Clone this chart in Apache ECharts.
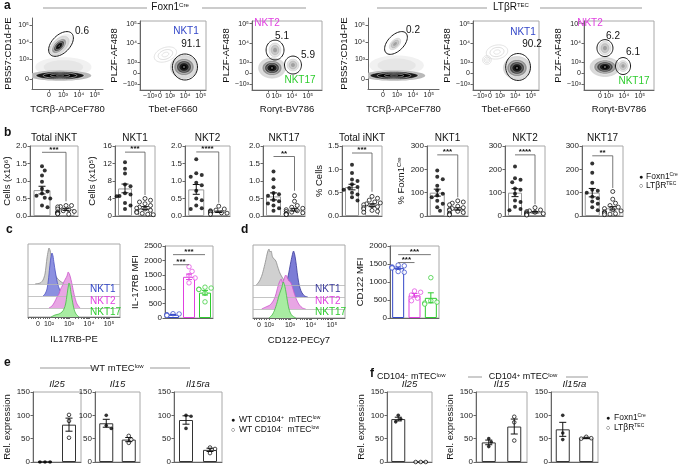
<!DOCTYPE html>
<html><head><meta charset="utf-8">
<script src="https://cdn.jsdelivr.net/npm/echarts@6/dist/echarts.min.js"></script>
<style>html,body{margin:0;padding:0;background:#fff}#c{width:680px;height:466px}</style>
</head><body><div id="c"></div>
<script>
// ======================= DATA =======================
// (a) gate frequencies (%)
const aFreqFoxn1 = ['0.6', '91.1', '5.1', '5.9'];
const aFreqLtbr  = ['0.2', '90.2', '6.2', '6.1'];
// (a) populations in arcsinh display units: [x, y, semiAxisA, semiAxisB, tiltDeg, kind]
// kind: 0 dense contours, 1 light contours, 2 gate, 3 sparse contour lines, 4 scattered events, 5 dense band
const aPops1 = [[0.9,0.7,1.75,0.62,0,4],[0.8,2.0,0.85,0.5,45,4],[0.69,0.2,1.5,0.25,0,5],[0.63,1.94,0.56,0.31,45,0],[0.75,2.06,0.94,0.56,45,2]];
const aPops2 = [[0.35,0.95,0.75,0.45,20,3],[1.55,0.31,0.65,0.55,0,0],[1.61,0.31,0.81,0.84,0,2]];
const aPops3 = [[0.25,0.26,0.62,0.47,0,0],[0.44,1.18,0.37,0.44,0,1],[0.44,1.18,0.56,0.62,0,2],[1.56,0.41,0.37,0.37,0,1],[1.56,0.41,0.53,0.56,0,2]];
const aPops4 = [[0.85,0.8,1.7,0.62,0,4],[0.69,0.2,1.5,0.25,0,5],[0.75,2.06,0.44,0.25,45,1],[0.81,2.12,0.875,0.5,45,2]];
const aPops5 = [[0.45,1.08,0.7,0.45,10,3],[-0.2,0.67,0.28,0.28,0,3],[1.74,0.26,0.65,0.55,0,0],[1.81,0.31,0.8,0.87,0,2]];
const aPops6 = [[0.31,0.31,0.69,0.44,0,0],[0.31,1.28,0.37,0.42,0,1],[0.31,1.28,0.5,0.53,0,2],[1.44,0.36,0.32,0.34,0,1],[1.44,0.36,0.47,0.53,0,2]];
const aTicksPos = [0, 1e3, 1e4, 1e5];
const aTicksPosLab = ['0', '10\u00B3', '10\u2074', '10\u2075'];
const aTicksBi = [-1e3, 0, 1e3, 1e4, 1e5];
const aTicksBiLab = ['\u221210\u00B3', '0', '10\u00B3', '10\u2074', '10\u2075'];

// (b) iNKT numbers: Foxn1Cre (filled) vs LTbRTEC (open)
const bTitles = ['Total iNKT', 'NKT1', 'NKT2', 'NKT17', 'Total iNKT', 'NKT1', 'NKT2', 'NKT17'];
const bTotalCellsFoxn1 = [1.42,1.3,1.16,0.98,0.78,0.7,0.64,0.58,0.52,0.5,0.3,0.25];
const bTotalCellsLtbr  = [0.3,0.3,0.27,0.26,0.2,0.18,0.15,0.13,0.12,0.1,0.08,0.07,0.06,0.05];
const bNkt1CellsFoxn1  = [12.3,10.8,9.7,7.2,6.8,5.2,4.9,4.6,4.5,3.0,2.4,1.6];
const bNkt1CellsLtbr   = [4.0,3.6,3.2,2.8,2.4,2.0,1.8,1.6,1.3,1.0,0.8,0.6,0.4,0.3];
const bNkt2CellsFoxn1  = [1.62,1.22,1.17,1.12,0.95,0.88,0.72,0.5,0.45,0.3,0.22,0.2];
const bNkt2CellsLtbr   = [0.28,0.2,0.17,0.15,0.13,0.12,0.1,0.09,0.08,0.06,0.05];
const bNkt17CellsFoxn1 = [1.27,1.05,0.82,0.66,0.62,0.58,0.46,0.42,0.36,0.3,0.22,0.15];
const bNkt17CellsLtbr  = [0.58,0.42,0.3,0.25,0.22,0.18,0.15,0.13,0.11,0.09,0.07,0.06,0.05,0.04];
const bTotalPctFoxn1   = [1.1,0.92,0.78,0.75,0.68,0.62,0.6,0.56,0.5,0.46,0.4,0.33];
const bTotalPctLtbr    = [0.42,0.38,0.34,0.3,0.28,0.26,0.24,0.22,0.2,0.18,0.15,0.12,0.1,0.08];
const bNkt1PctFoxn1    = [195,168,158,130,110,95,88,80,65,52,38,22];
const bNkt1PctLtbr     = [65,60,55,48,42,36,32,28,24,20,15,12,8,5];
const bNkt2PctFoxn1    = [212,162,155,145,118,112,95,66,60,40,30,25];
const bNkt2PctLtbr     = [36,26,22,19,16,14,12,10,8,6,4];
const bNkt17PctFoxn1   = [225,185,142,112,108,100,82,76,62,52,38,25];
const bNkt17PctLtbr    = [105,72,55,45,38,32,27,22,18,15,12,10,8,6];
const bMeans = [[0.74,0.19],[6.3,1.8],[0.76,0.12],[0.56,0.18],[0.62,0.23],[100,30],[100,16],[100,33]];
const bSems  = [[0.11,0.03],[1.0,0.35],[0.14,0.02],[0.1,0.04],[0.06,0.03],[15,5],[17,3],[18,7]];
const bSig   = [['***',1.82,0.42],['***',14.6,4.8],['****',1.83,0.38],['**',1.7,0.72],['***',1.35,0.52],['***',262,80],['****',262,50],['**',258,120]];

// (c,d) histograms: [display position (log units), height]
const cHistIso   = [[1.3,0],[1.56,1],[1.7,4],[1.8,10],[1.9,26],[1.96,33],[2.0,36],[2.05,34],[2.1,29],[2.16,22],[2.22,16],[2.3,10],[2.4,6],[2.55,3],[2.78,0]];
const cHistNkt1  = [[1.7,0],[1.8,2],[1.9,7],[1.97,16],[2.03,28],[2.09,38],[2.15,43],[2.2,40],[2.25,33],[2.32,24],[2.4,15],[2.5,8],[2.6,4],[2.75,0]];
const cHistNkt2  = [[2.0,0],[2.15,2],[2.28,6],[2.4,11],[2.5,14],[2.58,19],[2.66,22],[2.74,26],[2.82,29],[2.9,32],[2.96,36],[3.02,34],[3.08,30],[3.15,24],[3.22,17],[3.3,10],[3.4,4],[3.55,0]];
const cHistNkt17 = [[2.1,0],[2.3,2],[2.5,3],[2.65,5],[2.75,8],[2.83,13],[2.9,22],[2.96,30],[3.0,34],[3.05,31],[3.1,24],[3.17,16],[3.25,8],[3.35,3],[3.5,0]];
const dHistIso   = [[1.4,0],[1.55,4],[1.67,10],[1.76,17],[1.84,24],[1.9,30],[1.95,34],[2.0,36],[2.05,33],[2.1,34],[2.17,28],[2.25,26],[2.33,24],[2.42,18],[2.52,12],[2.62,8],[2.75,4],[2.9,1],[3.05,0]];
const dHistNkt1  = [[2.55,0],[2.68,4],[2.78,9],[2.88,18],[2.96,26],[3.03,34],[3.1,41],[3.17,46],[3.23,42],[3.29,34],[3.36,22],[3.44,12],[3.55,5],[3.7,1],[3.85,0]];
const dHistNkt2  = [[1.65,0],[1.85,2],[2.05,4],[2.2,8],[2.32,14],[2.42,22],[2.5,27],[2.58,30],[2.65,26],[2.72,30],[2.8,34],[2.88,31],[2.95,28],[3.02,27],[3.1,23],[3.2,16],[3.32,9],[3.45,4],[3.6,1],[3.75,0]];
const dHistNkt17 = [[2.0,0],[2.15,3],[2.27,8],[2.38,15],[2.47,22],[2.55,27],[2.62,31],[2.68,36],[2.74,33],[2.8,27],[2.87,18],[2.94,10],[3.02,5],[3.12,2],[3.28,0]];
const histTickLab = ['0', '10\u00B2', '10\u00B3', '10\u2074', '10\u2075'];
const histNames = ['NKT1', 'NKT2', 'NKT17'];

// (c,d) MFI
const cMfiNkt1 = [150,140,115,100,90];
const cMfiNkt2 = [1780,1620,1470,1390,1220];
const cMfiNkt17 = [1070,1040,1000,990,860,560];
const cMfiMean = [115,1430,880], cMfiSem = [12,95,80];
const dMfiNkt1 = [1470,1450,1420,1400,1390,1290,1270];
const dMfiNkt2 = [750,715,640,550,480];
const dMfiNkt17 = [1120,480,440,415,385];
const dMfiMean = [1385,630,560], dMfiSem = [30,50,140];
const cdSig = [['***',2200],['***',1850]];
const cdSig2 = [['***',1760],['***',1540]];

// (e) WT mTEClow: CD104+ (filled) vs CD104- (open)
const eGenes = ['Il25', 'Il15', 'Il15ra'];
const eIl25Pos = [0,0,0],        eIl25Neg = [101,88,52];
const eIl15Pos = [100,78,72],    eIl15Neg = [56,48,41];
const eIl15raPos = [100,98,72],  eIl15raNeg = [31,28,19];
const eMeans = [[0,80],[83,48],[90,26]], eSems = [[0,14],[8.5,4.5],[9,3.5]];
// (f) Foxn1Cre (filled) vs LTbRTEC (open)
const fIl25Foxn1 = [100,92,86],  fIl25Ltbr = [0,0,0];
const fIl15Foxn1 = [50,43,33],   fIl15Ltbr = [97,85,46];
const fIl15raFoxn1 = [100,62,48], fIl15raLtbr = [54,51,50];
const fMeans = [[92,0],[42,76],[70,51.5]], fSems = [[4,0],[5,16],[15,1.5]];

// ======================= BUILD =======================
const FONT = '"Liberation Sans", Arial, Helvetica, sans-serif';
const AX = '#666', FR = '#a8a8a8';
const grids = [], xAxes = [], yAxes = [], series = [], graphic = [];
function addGrid(l,t,w,h,frame){ grids.push({left:l,top:t,width:w,height:h,show:!!frame,borderColor:FR,borderWidth:1,backgroundColor:'transparent',containLabel:false}); return grids.length-1; }
function asinhT(v,c){ return Math.asinh(v/c)/Math.LN10; }
function rich(size,color,italic){
  return {n:{fontSize:size,fontFamily:FONT,fill:color,color:color,fontStyle:italic?'italic':'normal'},
          s:{fontSize:Math.round(size*0.62),fontFamily:FONT,fill:color,color:color,verticalAlign:'top'}};
}
function txt(x,y,text,o){
  o = o || {};
  const size = o.size||9, color = o.color||'#111';
  const st = {text:text, x:x, y:y, fill:color, font:(o.italic?'italic ':'')+(o.bold?'bold ':'')+size+'px '+FONT,
    align:o.align||'left', verticalAlign:o.va||'middle', textAlign:o.align||'left', textVerticalAlign:o.va||'middle'};
  if (o.rich) st.rich = rich(size,color,o.italic);
  graphic.push({type:'text', silent:true, z:100, style:st});
}
function hline(x1,x2,y,color){ graphic.push({type:'line', silent:true, z:100, shape:{x1:x1,y1:y,x2:x2,y2:y}, style:{stroke:color||'#999',lineWidth:1}}); }

// ---------- flow plots (a) ----------
const POP_STYLE = {
  0:[{f:1.35,fill:'#dadada',stroke:'#c8c8c8',lw:0.5},{f:1.0,fill:'#939393',stroke:'#fff',lw:0.5},{f:0.74,fill:'#4a4a4a',stroke:'#fff',lw:0.5},{f:0.5,fill:'#1e1e1e',stroke:'#ddd',lw:0.4},{f:0.26,fill:'#050505'},{f:0.07,fill:'#fff'}],
  1:[{f:1.0,fill:'#e4e4e4',stroke:'#c4c4c4',lw:0.5},{f:0.66,fill:'#c8c8c8',stroke:'#a4a4a4',lw:0.5},{f:0.33,fill:'#a0a0a0'}],
  2:[{f:1.0,fill:'none',stroke:'#1a1a1a',lw:1}],
  3:[{f:1.0,fill:'none',stroke:'#d0d0d0',lw:0.6},{f:0.65,fill:'none',stroke:'#c8c8c8',lw:0.6},{f:0.3,fill:'none',stroke:'#d0d0d0',lw:0.6}],
  4:[{f:1.0,fill:'#f1f1f1'},{f:0.7,fill:'#e6e6e6'}],
  5:[{f:1.3,fill:'#b8b8b8'},{f:1.0,fill:'#1a1a1a',stroke:'#fff',lw:0.5},{f:0.7,fill:'#050505',stroke:'#fff',lw:0.5},{f:0.4,fill:'#000',stroke:'#eee',lw:0.5},{f:0.15,fill:'#000',stroke:'#ccc',lw:0.4}]
};
function ellPts(c,ra,rb,angDeg){
  const t = angDeg*Math.PI/180, pts = [];
  for (let i=0;i<48;i++){ const p = i/48*2*Math.PI; const ex = ra*Math.cos(p), ey = rb*Math.sin(p);
    pts.push([c[0]+ex*Math.cos(t)-ey*Math.sin(t), c[1]-(ex*Math.sin(t)+ey*Math.cos(t))]); }
  return pts;
}
function popRender(params, api){
  const c = api.coord([api.value(0), api.value(1)]);
  const ua = api.size([api.value(2),0])[0], ub = api.size([api.value(3),0])[0];
  const ang = api.value(4), kind = api.value(5);
  return {type:'group', children: POP_STYLE[kind].map(L => ({type:'polygon', shape:{points:ellPts(c,ua*L.f,ub*L.f,ang)},
    style:{fill:L.fill, stroke:L.stroke||null, lineWidth:L.lw||0}}))};
}
function flowAxis(isX, gi, range, ticks, labels, cpar, name, gap){
  const pos = ticks.map(v=>asinhT(v,cpar)); const map = {};
  pos.forEach((p,i)=>{ map[p.toFixed(4)] = labels[i]; });
  const ax = {gridIndex:gi, type:'value', min:range[0], max:range[1],
    axisLine:{show:true,onZero:false,lineStyle:{color:AX,width:1}},
    axisTick:{show:true,length:2.5,customValues:pos,lineStyle:{color:AX}},
    axisLabel:{show:true,customValues:pos,formatter:v=>map[v.toFixed(4)]||'',fontSize:7,margin:3,color:'#222',fontFamily:FONT},
    splitLine:{show:false}, name:name, nameLocation:'middle', nameGap:gap,
    nameTextStyle:{fontSize:9.5,color:'#111',fontFamily:FONT}};
  if (!isX) ax.nameRotate = 90;
  (isX?xAxes:yAxes).push(ax);
}
function flowPlot(o){
  const gi = addGrid(o.l,o.t,o.w,o.h,o.frame);
  flowAxis(true, gi, o.xr, o.xt, o.xl, o.cx, o.xn, o.xg);
  flowAxis(false, gi, o.yr, o.yt, o.yl, o.cy, o.yn, o.yg);
  series.push({type:'custom', xAxisIndex:xAxes.length-1, yAxisIndex:yAxes.length-1, data:o.pops,
    renderItem:popRender, silent:true, clip:true, z:3, animation:false});
}
const yRangeDot = [-0.59,3.59], yRangeBi = [-0.87,2.67];
flowPlot({l:32,t:18,w:71,h:71,frame:false,xr:[-1.06,3.37],yr:yRangeDot,xt:aTicksPos,xl:aTicksPosLab,yt:aTicksPos,yl:aTicksPosLab,cx:272,cy:133,xn:'TCR\u03B2-APCeF780',xg:15,yn:'PBS57:CD1d-PE',yg:19,pops:aPops1});
flowPlot({l:140,t:21,w:66,h:69,frame:true,xr:[-1.29,2.97],yr:yRangeBi,xt:aTicksBi,xl:aTicksBiLab,yt:aTicksBi,yl:aTicksBiLab,cx:470,cy:590,xn:'Tbet-eF660',xg:14,yn:'PLZF-AF488',yg:17,pops:aPops2});
flowPlot({l:252,t:21,w:70,h:69,frame:true,xr:[-1.0,3.375],yr:yRangeBi,xt:aTicksBi,xl:aTicksBiLab,yt:aTicksBi,yl:aTicksBiLab,cx:645,cy:590,xn:'Ror\u03B3t-BV786',xg:14,yn:'PLZF-AF488',yg:14,pops:aPops3});
flowPlot({l:368,t:18,w:71,h:71,frame:false,xr:[-0.94,3.5],yr:yRangeDot,xt:aTicksPos,xl:aTicksPosLab,yt:aTicksPos,yl:aTicksPosLab,cx:272,cy:133,xn:'TCR\u03B2-APCeF780',xg:15,yn:'PBS57:CD1d-PE',yg:19,pops:aPops4});
flowPlot({l:473,t:21,w:66,h:69,frame:true,xr:[-1.1,3.16],yr:yRangeBi,xt:aTicksBi,xl:aTicksBiLab,yt:aTicksBi,yl:aTicksBiLab,cx:470,cy:590,xn:'Tbet-eF660',xg:14,yn:'PLZF-AF488',yg:17,pops:aPops5});
flowPlot({l:584,t:21,w:70,h:69,frame:true,xr:[-1.0,3.375],yr:yRangeBi,xt:aTicksBi,xl:aTicksBiLab,yt:aTicksBi,yl:aTicksBiLab,cx:645,cy:590,xn:'Ror\u03B3t-BV786',xg:14,yn:'PLZF-AF488',yg:14,pops:aPops6});
const C1 = '#3246c8', C2 = '#e040e0', C3 = '#2ecc2e';
// gate annotations
txt(82,31,aFreqFoxn1[0],{size:10,align:'center'});
txt(186,31,'NKT1',{size:10,color:C1,align:'center'}); txt(191,44,aFreqFoxn1[1],{size:10,align:'center'});
txt(267,23,'NKT2',{size:10,color:C2,align:'center'}); txt(282,36,aFreqFoxn1[2],{size:10,align:'center'});
txt(308,55,aFreqFoxn1[3],{size:10,align:'center'}); txt(300,80,'NKT17',{size:10,color:C3,align:'center'});
txt(413,30,aFreqLtbr[0],{size:10,align:'center'});
txt(523,32,'NKT1',{size:10,color:C1,align:'center'}); txt(532,44,aFreqLtbr[1],{size:10,align:'center'});
txt(590,23,'NKT2',{size:10,color:C2,align:'center'}); txt(613,36,aFreqLtbr[2],{size:10,align:'center'});
txt(633,52,aFreqLtbr[3],{size:10,align:'center'}); txt(634,81,'NKT17',{size:10,color:C3,align:'center'});
// headers
txt(4,6,'a',{size:12,bold:true}); txt(170,7,'{n|Foxn1}{s|Cre}',{size:10,rich:true,align:'center'});
hline(43,147,8); hline(202,306,8);
txt(511,7,'{n|LT\u03B2R}{s|TEC}',{size:10,rich:true,align:'center'});
hline(377,487,8); hline(540,642,8);

// ---------- bar plots ----------
function swarm(vals, pxY, pxX, d, maxOff){
  const order = vals.map((v,i)=>i).sort((a,b)=>vals[b]-vals[a]);
  const placed = [], out = [];
  for (const i of order){
    const py = vals[i]*pxY; let off = 0;
    for (let s=0;s<30;s++){
      const o2 = s===0 ? 0 : (s%2 ? 1 : -1)*Math.ceil(s/2)*d*0.6;
      if (Math.abs(o2) > maxOff) { break; }
      off = o2;
      if (placed.every(p => (p.x-o2)*(p.x-o2)+(p.y-py)*(p.y-py) >= d*d*0.95)) break;
    }
    placed.push({x:off,y:py}); out[i] = off/pxX;
  }
  return out;
}
function barPlot(o){
  const gi = addGrid(o.l,o.t,o.w,o.h,true);
  const n = o.groups.length;
  xAxes.push({gridIndex:gi,type:'value',min:-0.5,max:n-0.5,axisLine:{show:true,onZero:false,lineStyle:{color:AX}},axisTick:{show:false},axisLabel:{show:false},splitLine:{show:false}});
  const ya = {gridIndex:gi,type:'value',min:0,max:o.ymax,interval:o.interval,axisLine:{show:true,onZero:false,lineStyle:{color:AX}},
    axisTick:{show:true,length:2.5,lineStyle:{color:AX}},axisLabel:{fontSize:8,color:'#222',margin:3,fontFamily:FONT,formatter:o.fmt},splitLine:{show:false}};
  if (o.yName){ Object.assign(ya,{name:o.yName,nameLocation:'middle',nameRotate:90,nameGap:o.nameGap,
    nameTextStyle:{fontSize:9.5,color:'#111',fontFamily:FONT,rich:{n:{fontSize:9.5,color:'#111',fontFamily:FONT},s:{fontSize:6,color:'#111',fontFamily:FONT,verticalAlign:'top'}}}}); }
  yAxes.push(ya);
  const xi = xAxes.length-1, yi = yAxes.length-1;
  const pxX = o.w/n, pxY = o.h/o.ymax;
  series.push({type:'bar',xAxisIndex:xi,yAxisIndex:yi,barWidth:o.barW,silent:true,animation:false,z:2,
    data:o.groups.map((g,i)=>({value:[i,g.mean],itemStyle:{color:'#fff',borderColor:g.barColor,borderWidth:1}}))});
  o.groups.forEach((g,i)=>{
    const offs = swarm(g.pts,pxY,pxX,o.dot+0.6,o.barW*0.6);
    series.push({type:'scatter',xAxisIndex:xi,yAxisIndex:yi,silent:true,animation:false,z:4,symbol:'circle',symbolSize:o.dot,clip:false,
      itemStyle:g.open?{color:'#fff',borderColor:g.color,borderWidth:0.9}:{color:g.color,borderColor:g.color,borderWidth:0},
      data:g.pts.map((v,k)=>[i+offs[k],v])});
    const ec = g.errColor||'#111';
    series.push({type:'custom',xAxisIndex:xi,yAxisIndex:yi,silent:true,animation:false,z:5,clip:false,
      data:[[i,g.mean-g.sem,g.mean+g.sem]],
      renderItem:(p,api)=>{ const lo=api.value(1), hi=api.value(2); if (!(hi>lo)) return {type:'group',children:[]};
        const a=api.coord([api.value(0),lo]), b=api.coord([api.value(0),hi]), cw=o.cap/2;
        const st={stroke:ec,lineWidth:1};
        return {type:'group',children:[{type:'line',shape:{x1:a[0],y1:a[1],x2:b[0],y2:b[1]},style:st},
          {type:'line',shape:{x1:a[0]-cw,y1:a[1],x2:a[0]+cw,y2:a[1]},style:st},
          {type:'line',shape:{x1:b[0]-cw,y1:b[1],x2:b[0]+cw,y2:b[1]},style:st}]}; }});
  });
  if (o.sig){
    series.push({type:'custom',xAxisIndex:xi,yAxisIndex:yi,silent:true,animation:false,z:6,clip:false,
      data:o.sig.map(s=>[s[1],s[2],s[3],s[4]]),
      renderItem:(p,api)=>{ const s=o.sig[p.dataIndex];
        const a=api.coord([api.value(0),api.value(2)]), b=api.coord([api.value(1),api.value(2)]), r=api.coord([api.value(1),api.value(3)]);
        return {type:'group',children:[{type:'polyline',shape:{points:[a,b,r]},style:{stroke:'#555',lineWidth:0.8,fill:'none'}},
          {type:'text',style:{text:s[0],x:(a[0]+b[0])/2,y:a[1]+1,align:'center',verticalAlign:'bottom',textAlign:'center',textVerticalAlign:'bottom',fill:'#111',font:'bold 8px '+FONT}}]}; }});
  }
  if (o.title) txt(o.l+o.w/2, o.t-8, o.title, {size:o.titleSize||10, italic:!!o.italic, align:'center'});
}

// ---------- panel b ----------
txt(4,133,'b',{size:12,bold:true});
const bLayout = [[30,48],[115,40],[185,45],[263,42],[342,40],[427,41],[505,40],[582,41]];
const bPts = [[bTotalCellsFoxn1,bTotalCellsLtbr],[bNkt1CellsFoxn1,bNkt1CellsLtbr],[bNkt2CellsFoxn1,bNkt2CellsLtbr],[bNkt17CellsFoxn1,bNkt17CellsLtbr],
              [bTotalPctFoxn1,bTotalPctLtbr],[bNkt1PctFoxn1,bNkt1PctLtbr],[bNkt2PctFoxn1,bNkt2PctLtbr],[bNkt17PctFoxn1,bNkt17PctLtbr]];
const bScale = [[2,0.5],[16,4],[2,0.5],[2,0.5],[1.5,0.5],[300,100],[300,100],[300,100]];
const bNames = ['Cells (x10\u2076)','Cells (x10\u2075)',null,null,'% Cells','{n|% Foxn1}{s|Cre}',null,null];
const bGaps = [17,18,0,0,16,11,0,0];
bLayout.forEach((L,k)=>{
  const dec = bScale[k][1] < 1;
  barPlot({l:L[0],t:146,w:L[1],h:70,ymax:bScale[k][0],interval:bScale[k][1],fmt:v=>dec?v.toFixed(1):String(v),
    yName:bNames[k],nameGap:bGaps[k],barW:Math.round(L[1]*0.36),dot:4,cap:7,title:bTitles[k],
    groups:[{mean:bMeans[k][0],sem:bSems[k][0],pts:bPts[k][0],open:false,color:'#000',barColor:'#9a9a9a'},
            {mean:bMeans[k][1],sem:bSems[k][1],pts:bPts[k][1],open:true,color:'#000',barColor:'#9a9a9a'}],
    sig:[[bSig[k][0],0,1,bSig[k][1],bSig[k][2]]]});
});
txt(641,177,'\u25CF',{size:7,align:'center'}); txt(646,177,'{n|Foxn1}{s|Cre}',{size:8.5,rich:true});
txt(641,186,'\u25CB',{size:7,align:'center'}); txt(646,186,'{n|LT\u03B2R}{s|TEC}',{size:8.5,rich:true});

// ---------- panel c / d histograms ----------
function histPlot(o){
  const gi = addGrid(o.l,o.t,o.w,o.h,true);
  const pos = [o.zero,2,3,4,5]; const map = {}; pos.forEach((p,i)=>{map[p.toFixed(3)] = histTickLab[i];});
  const minor = pos.slice();
  for (const n of [2,3,4]) for (let k=2;k<=9;k++) minor.push(n+Math.log10(k));
  for (let k=1;k<=4;k++) minor.push(o.zero - k*0.12, o.zero + k*0.12);
  xAxes.push({gridIndex:gi,type:'value',min:o.xr[0],max:o.xr[1],axisLine:{show:true,onZero:false,lineStyle:{color:AX}},
    axisTick:{show:true,length:2,customValues:minor.filter(v=>v>o.xr[0]&&v<o.xr[1]),lineStyle:{color:AX}},
    axisLabel:{show:true,customValues:pos,formatter:v=>map[v.toFixed(3)]||'',fontSize:7,margin:4,color:'#222',fontFamily:FONT},
    splitLine:{show:false},name:o.xn,nameLocation:'middle',nameGap:17,nameTextStyle:{fontSize:9.5,color:'#111',fontFamily:FONT}});
  yAxes.push({gridIndex:gi,type:'value',min:0,max:73,show:false});
  const xi = xAxes.length-1, yi = yAxes.length-1;
  const offsets = [33,21,9,0];
  o.hists.forEach((h,k)=>{
    const s = {type:'line',xAxisIndex:xi,yAxisIndex:yi,silent:true,animation:false,symbol:'none',smooth:0.25,clip:false,z:2+k,
      data:h.d.map(p=>[p[0],p[1]+offsets[k]]),lineStyle:{color:h.stroke,width:0.8},areaStyle:{color:h.fill,opacity:1,origin:offsets[k]}};
    if (k===0) s.markLine = {silent:true,symbol:['none','none'],label:{show:false},lineStyle:{color:'#b5b5b5',width:0.8,type:'solid'},data:offsets.slice(0,3).map(v=>({yAxis:v}))};
    series.push(s);
  });
  histNames.forEach((nm,k)=>txt(o.labX, o.labY[k], nm, {size:10, color:o.labColors[k]}));
}
txt(6,230,'c',{size:12,bold:true}); txt(241,230,'d',{size:12,bold:true});
histPlot({l:28,t:244,w:92,h:73,zero:1.45,xr:[0.95,5.55],xn:'IL17RB-PE',labX:90,labY:[289,301,312],labColors:[C1,C2,C3],
  hists:[{d:cHistIso,fill:'#d0d0d0',stroke:'#8a8a8a'},{d:cHistNkt1,fill:'#8c90e0',stroke:'#4a50c0'},{d:cHistNkt2,fill:'#e8a6e4',stroke:'#cc55cc'},{d:cHistNkt17,fill:'#a8eca2',stroke:'#44bb44'}]});
histPlot({l:253,t:245,w:92,h:73,zero:1.52,xr:[1.24,5.62],xn:'CD122-PECy7',labX:315,labY:[289,301,312],labColors:['#3c3c9c',C2,C3],
  hists:[{d:dHistIso,fill:'#d0d0d0',stroke:'#8a8a8a'},{d:dHistNkt1,fill:'#7c7cd6',stroke:'#3a3a9a'},{d:dHistNkt2,fill:'#e8a6e4',stroke:'#cc55cc'},{d:dHistNkt17,fill:'#a8eca2',stroke:'#44bb44'}]});
// MFI
const mfiGroups = (pts,means,sems)=>pts.map((p,i)=>({mean:means[i],sem:sems[i],pts:p,open:true,color:[C1,C2,C3][i],barColor:[C1,C2,C3][i],errColor:[C1,C2,C3][i]}));
barPlot({l:165,t:246,w:48,h:72,ymax:2500,interval:500,fmt:v=>String(v),yName:'IL-17RB MFI',nameGap:23,barW:12,dot:4.5,cap:6,
  groups:mfiGroups([cMfiNkt1,cMfiNkt2,cMfiNkt17],cMfiMean,cMfiSem),
  sig:[[cdSig[0][0],0,2,cdSig[0][1],cdSig[0][1]],[cdSig[1][0],0,1,cdSig[1][1],cdSig[1][1]]]});
barPlot({l:390,t:246,w:49,h:72,ymax:2000,interval:500,fmt:v=>String(v),yName:'CD122 MFI',nameGap:23,barW:12,dot:4.5,cap:6,
  groups:mfiGroups([dMfiNkt1,dMfiNkt2,dMfiNkt17],dMfiMean,dMfiSem),
  sig:[[cdSig2[0][0],0,2,cdSig2[0][1],cdSig2[0][1]],[cdSig2[1][0],0,1,cdSig2[1][1],cdSig2[1][1]]]});

// ---------- panel e / f ----------
txt(4,363,'e',{size:12,bold:true});
txt(117,368,'{n|WT mTEC}{s|low}',{size:9.5,rich:true,align:'center'}); hline(40,97,368); hline(150,190,368);
const eLayout = [[33,48],[95,45],[174,48]];
const ePts = [[eIl25Pos,eIl25Neg],[eIl15Pos,eIl15Neg],[eIl15raPos,eIl15raNeg]];
eLayout.forEach((L,k)=>{
  barPlot({l:L[0],t:392,w:L[1],h:71,ymax:150,interval:50,fmt:v=>String(v),yName:k===0?'Rel. expression':null,nameGap:19,barW:14,dot:3.6,cap:7,
    title:eGenes[k],italic:true,titleSize:9.5,
    groups:[{mean:eMeans[k][0],sem:eSems[k][0],pts:ePts[k][0],open:false,color:'#000',barColor:'#333'},
            {mean:eMeans[k][1],sem:eSems[k][1],pts:ePts[k][1],open:true,color:'#000',barColor:'#333'}]});
});
txt(233,420,'\u25CF',{size:7,align:'center'}); txt(239,420,'{n|WT CD104}{s|+}{n|  mTEC}{s|low}',{size:8.5,rich:true});
txt(233,430,'\u25CB',{size:7,align:'center'}); txt(239,430,'{n|WT CD104}{s|-}{n|  mTEC}{s|low}',{size:8.5,rich:true});

txt(370,374,'f',{size:12,bold:true});
txt(377,377,'{n|CD104}{s|\u2212}{n| mTEC}{s|low}',{size:9,rich:true});
txt(523,377,'{n|CD104}{s|+}{n| mTEC}{s|low}',{size:9,rich:true,align:'center'}); hline(468,482,377); hline(566,588,377);
const fLayout = [[387,45],[476,51],[551,47]];
const fPts = [[fIl25Foxn1,fIl25Ltbr],[fIl15Foxn1,fIl15Ltbr],[fIl15raFoxn1,fIl15raLtbr]];
fLayout.forEach((L,k)=>{
  barPlot({l:L[0],t:392,w:L[1],h:71,ymax:150,interval:50,fmt:v=>String(v),yName:k<2?'Rel. expression':null,nameGap:20,barW:14,dot:3.6,cap:7,
    title:eGenes[k],italic:true,titleSize:9.5,
    groups:[{mean:fMeans[k][0],sem:fSems[k][0],pts:fPts[k][0],open:false,color:'#000',barColor:'#333'},
            {mean:fMeans[k][1],sem:fSems[k][1],pts:fPts[k][1],open:true,color:'#000',barColor:'#333'}]});
});
txt(608,418,'\u25CF',{size:7,align:'center'}); txt(614,418,'{n|Foxn1}{s|Cre}',{size:8.5,rich:true});
txt(608,428,'\u25CB',{size:7,align:'center'}); txt(614,428,'{n|LT\u03B2R}{s|TEC}',{size:8.5,rich:true});

const chart = echarts.init(document.getElementById('c'), null, {renderer:'canvas', width:680, height:466});
chart.setOption({animation:false, backgroundColor:'#fff', textStyle:{fontFamily:FONT},
  grid:grids, xAxis:xAxes, yAxis:yAxes, series:series, graphic:graphic});
</script></body></html>
